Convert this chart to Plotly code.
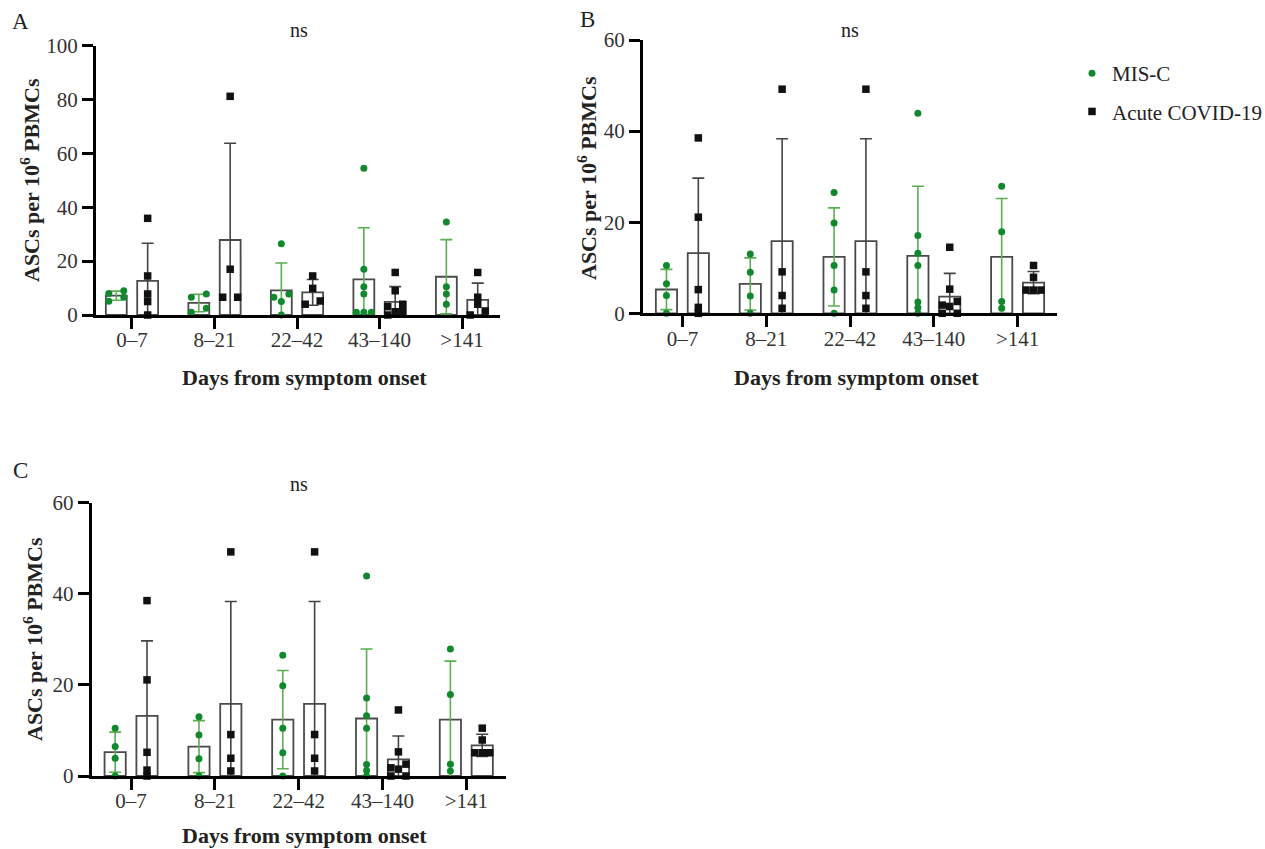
import numpy as np
import plotly.graph_objects as go

# ---------------- data ----------------
categories = ["0–7", "8–21", "22–42", "43–140", ">141"]

# Panel A: ASCs per 10^6 PBMCs, individual values per time bin
A_misc = [[8.0, 9.0, 5.1, 6.6],
          [7.8, 6.6, 2.5, 1.0],
          [26.5, 7.8, 6.6, 5.0, 0.0],
          [54.5, 17.0, 10.5, 7.8, 1.0, 1.0, 1.0],
          [34.5, 10.5, 7.8, 4.0]]
A_acute = [[35.9, 14.5, 7.8, 5.0, 0.0],
           [81.2, 17.0, 6.6, 6.6],
           [14.5, 9.9, 5.2, 4.0],
           [15.8, 9.0, 4.0, 3.1, 1.2, 1.2, 0.0],
           [15.8, 6.6, 4.0, 1.5, 0.0]]

# Panel B
B_misc = [[10.5, 6.5, 3.9, 0.0],
          [13.0, 9.0, 3.8, 0.0],
          [26.5, 19.8, 10.5, 5.1, 0.0],
          [43.9, 17.1, 13.2, 10.5, 2.5, 1.2, 0.0],
          [27.9, 17.9, 2.6, 1.1]]
B_acute = [[38.5, 21.1, 5.2, 1.3, 0.0],
           [49.2, 9.1, 3.9, 1.1],
           [49.2, 9.1, 3.9, 1.1],
           [14.5, 5.3, 2.6, 1.8, 1.5, 0.0, 0.0],
           [10.5, 7.9, 5.1, 5.1, 5.1]]

# Panel C (same values as panel B in the reference)
C_misc = [list(v) for v in B_misc]
C_acute = [list(v) for v in B_acute]

series_names = ["MIS-C", "Acute COVID-19"]
y_title = "<b>ASCs per 10<sup>6</sup> PBMCs</b>"
x_title = "<b>Days from symptom onset</b>"

# ---------------- style ----------------
W, H = 1265, 849
FONT = "Liberation Serif"
GREEN = "#12882e"
GREEN_ERR = "#58b050"
BLACK = "#111111"
GREY_ERR = "#444444"
BAR_LINE = "#4a4a4a"
TXT = "#222222"

BARGAP = 0.24
BARGROUPGAP = 0.334
HALF_SLOT = (1 - BARGAP) / 4.0  # centre offset of each bar from category

panels = [
    dict(letter="A", misc=A_misc, acute=A_acute, x0=96, x1=500, ytop=45.7, ybot=315,
         ymax=100, xr=[-0.436, 4.46], letter_xy=(20, 22), ns_xy=(299, 30),
         ytitle_xy=(30, 180), xtitle_xy=(304, 377)),
    dict(letter="B", misc=B_misc, acute=B_acute, x0=643, x1=1057, ytop=40, ybot=313.3,
         ymax=60, xr=[-0.47, 4.47], letter_xy=(587, 20), ns_xy=(850, 30),
         ytitle_xy=(587, 178), xtitle_xy=(856, 377)),
    dict(letter="C", misc=C_misc, acute=C_acute, x0=91.7, x1=505.7, ytop=502.7, ybot=776,
         ymax=60, xr=[-0.47, 4.47], letter_xy=(20, 470), ns_xy=(299, 484),
         ytitle_xy=(33, 639), xtitle_xy=(304, 835)),
]


def PX(x):
    return x / W


def PY(y):
    return 1 - y / H


def swarm_offsets(vals, px_per_unit, thresh=5.0, step=7.5):
    """Prism-like row layout: points closer than `thresh` px form a row."""
    order = sorted(range(len(vals)), key=lambda i: -vals[i])
    rows, cur = [], [order[0]]
    for i in order[1:]:
        if (vals[cur[0]] - vals[i]) * px_per_unit < thresh:
            cur.append(i)
        else:
            rows.append(cur)
            cur = [i]
    rows.append(cur)
    offs = [0.0] * len(vals)
    for r in rows:
        r = sorted(r, key=lambda i: vals[i])
        n = len(r)
        if n % 2 == 1:
            pos = [k - (n - 1) / 2 for k in range(n)]
        else:
            h = n // 2
            pos = [-(h - k) for k in range(h)] + [k + 1 for k in range(h)]
        for i, p in zip(r, pos):
            offs[i] = p * step
    return offs


fig = go.Figure()
annotations = []
layout_axes = {}

for k, p in enumerate(panels):
    sx = "" if k == 0 else str(k + 1)
    xa, ya = "x" + sx, "y" + sx
    px_x = (p["x1"] - p["x0"]) / (p["xr"][1] - p["xr"][0])
    px_y = (p["ybot"] - p["ytop"]) / p["ymax"]

    groups = [(p["misc"], GREEN, GREEN_ERR, "circle", -1, series_names[0], "m"),
              (p["acute"], BLACK, GREY_ERR, "square", 1, series_names[1], "a")]
    # bars with SD error bars
    for data, col, ecol, sym, side, name, lg in groups:
        means = [float(np.mean(v)) for v in data]
        sds = [float(np.std(v, ddof=1)) for v in data]
        fig.add_trace(go.Bar(
            x=list(range(len(categories))), y=means, xaxis=xa, yaxis=ya,
            marker=dict(color="white", line=dict(color=BAR_LINE, width=1.8)),
            error_y=dict(type="data", array=sds, symmetric=True, color=ecol,
                         thickness=1.6, width=6),
            showlegend=False, hoverinfo="skip", offsetgroup=lg))
    # individual points
    for data, col, ecol, sym, side, name, lg in groups:
        xs, ys = [], []
        for ci, vals in enumerate(data):
            offs = swarm_offsets(vals, px_y)
            for v, o in zip(vals, offs):
                xs.append(ci + side * HALF_SLOT + o / px_x)
                ys.append(v)
        fig.add_trace(go.Scatter(
            x=xs, y=ys, mode="markers", xaxis=xa, yaxis=ya, cliponaxis=False,
            marker=dict(symbol=sym, size=7 if sym == "circle" else 7.5, color=col,
                        line=dict(width=0)),
            name=name, legendgroup=lg, showlegend=(k == 0)))

    common = dict(showline=True, linewidth=3, linecolor="black", ticks="outside",
                  ticklen=11, tickwidth=3, tickcolor="black", showgrid=False,
                  zeroline=False, tickfont=dict(family=FONT, size=21, color="#333333"),
                  fixedrange=True, automargin=False)
    layout_axes["xaxis" + sx] = dict(
        domain=[PX(p["x0"]), PX(p["x1"])], range=p["xr"], anchor=ya,
        tickvals=list(range(len(categories))), ticktext=categories,
        ticklabelstandoff=-7, **common)
    layout_axes["yaxis" + sx] = dict(
        domain=[PY(p["ybot"]), PY(p["ytop"])], range=[0, p["ymax"]],
        anchor=xa, dtick=20, tick0=0, **common)

    def ann(text, xy, size, angle=0):
        annotations.append(dict(text=text, x=PX(xy[0]), y=PY(xy[1]), xref="paper",
                                yref="paper", showarrow=False, xanchor="center",
                                yanchor="middle", textangle=angle,
                                font=dict(family=FONT, size=size, color=TXT)))

    ann(p["letter"], p["letter_xy"], 23)
    ann("ns", p["ns_xy"], 20)
    ann(y_title, p["ytitle_xy"], 22, -90)
    ann(x_title, p["xtitle_xy"], 22)

fig.update_layout(
    width=W, height=H, margin=dict(l=0, r=0, t=0, b=0, autoexpand=False),
    paper_bgcolor="white", plot_bgcolor="white",
    barmode="group", bargap=BARGAP, bargroupgap=BARGROUPGAP,
    annotations=annotations,
    legend=dict(x=PX(1072), y=PY(53), xanchor="left", yanchor="top",
                font=dict(family=FONT, size=21, color=TXT), tracegroupgap=8,
                traceorder="grouped", bgcolor="rgba(0,0,0,0)", itemwidth=30),
    **layout_axes)

fig.write_html("out.html", config={"displayModeBar": False},
               post_script="document.body.style.margin='0';"
                           "document.body.style.overflow='hidden';")
